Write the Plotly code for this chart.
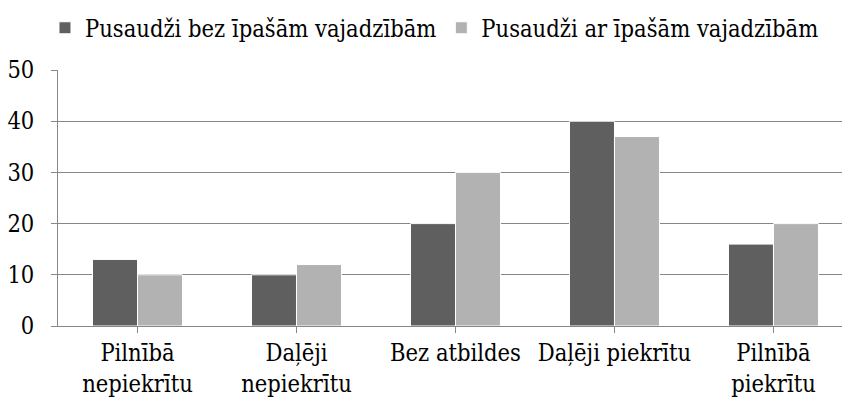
import plotly.graph_objects as go

categories = ["Pilnībā<br>nepiekrītu", "Daļēji<br>nepiekrītu", "Bez atbildes", "Daļēji piekrītu", "Pilnībā<br>piekrītu"]
series_names = ["Pusaudži bez īpašām vajadzībām", "Pusaudži ar īpašām vajadzībām"]
values_bez = [13, 10, 20, 40, 16]
values_ar = [10, 12, 30, 37, 20]
y_ticks = [0, 10, 20, 30, 40, 50]

FONT = "DejaVu Serif Condensed, DejaVu Serif"
FS = 23.5
fig = go.Figure()
fig.add_bar(x=list(range(len(categories))), y=values_bez, name=series_names[0],
            marker=dict(color="#5f5f5f", line=dict(color="white", width=1)))
fig.add_bar(x=list(range(len(categories))), y=values_ar, name=series_names[1],
            marker=dict(color="#b2b2b2", line=dict(color="white", width=1)))

fig.update_layout(
    width=842, height=401,
    margin=dict(l=58, r=0, t=70, b=75, autoexpand=False),
    plot_bgcolor="white", paper_bgcolor="white",
    barmode="group", bargap=0.434, bargroupgap=0,
    font=dict(family=FONT, size=FS, color="#000000"),
    legend=dict(orientation="h", x=-0.0166, xanchor="left", y=1.25, yanchor="top",
                font=dict(family=FONT, size=FS), bgcolor="rgba(0,0,0,0)"),
    xaxis=dict(range=[-0.5, 4.431], tickmode="array", tickvals=list(range(len(categories))),
               ticktext=categories, tickson="boundaries", ticks="outside", ticklen=6,
               tickcolor="#868686", showline=True, linecolor="#868686", linewidth=1,
               showgrid=False, zeroline=False, tickfont=dict(family=FONT, size=FS), automargin=False),
    yaxis=dict(range=[0, 50], tickvals=y_ticks, ticks="outside", ticklen=6,
               tickcolor="#868686", showline=True, linecolor="#868686", linewidth=1,
               showgrid=True, gridcolor="#868686", gridwidth=1, zeroline=False,
               tickfont=dict(family=FONT, size=FS), ticklabelstandoff=12, automargin=False),
)
fig.write_html("out.html", config={"displayModeBar": False},
               post_script="document.body.style.margin='0';")
